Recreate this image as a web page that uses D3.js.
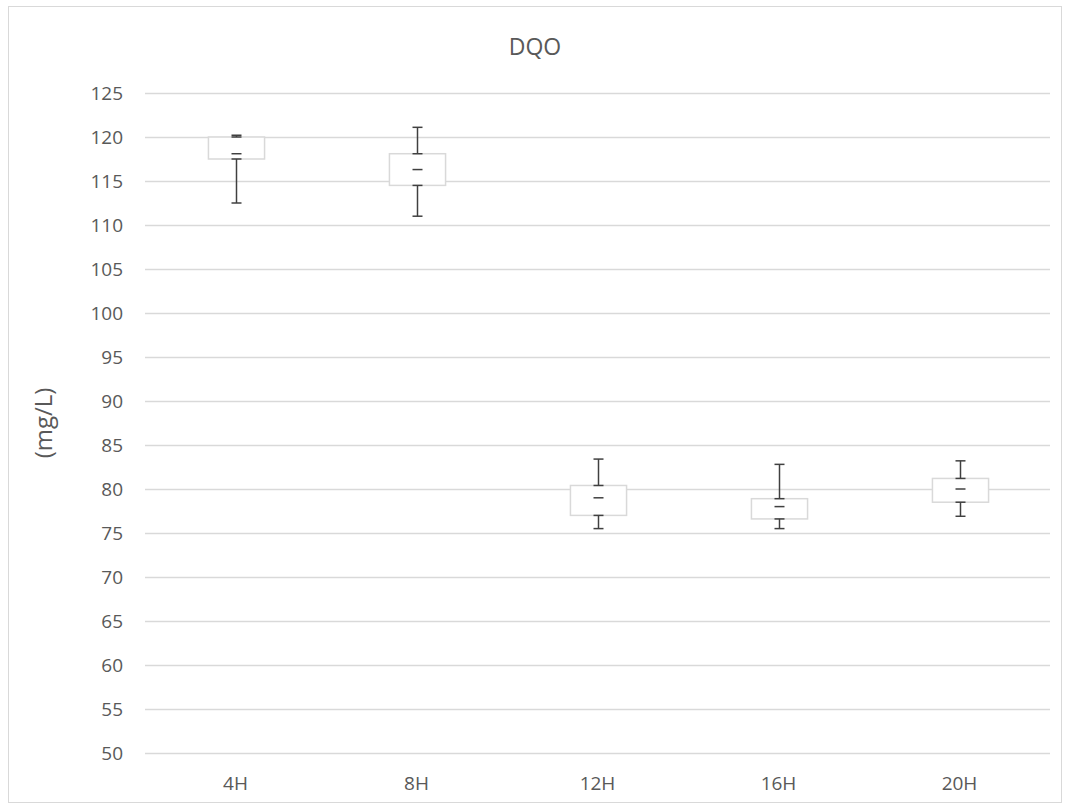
<!DOCTYPE html>
<html>
<head>
<meta charset="utf-8">
<script src="https://cdn.jsdelivr.net/npm/d3@7"></script>
<style>
  html, body { margin: 0; padding: 0; background: #fff; }
  svg { display: block; }
  svg text { font-family: "Open Sans", "Noto Sans", sans-serif; }
</style>
</head>
<body>
<svg id="chart" width="1070" height="809"></svg>
<script>
// Sampling times
const categories = ["4H", "8H", "12H", "16H", "20H"];
// Five-number summaries of DQO (mg/L) per sampling time
const minValues    = [112.5, 111.0, 75.5, 75.5, 76.9];
const q1Values     = [117.5, 114.5, 77.0, 76.6, 78.5];
const medianValues = [118.1, 116.3, 79.0, 78.0, 80.0];
const q3Values     = [120.0, 118.1, 80.4, 78.9, 81.2];
const maxValues    = [120.2, 121.1, 83.4, 82.8, 83.2];
// Y axis ticks
const yTicks = [50, 55, 60, 65, 70, 75, 80, 85, 90, 95, 100, 105, 110, 115, 120, 125];

const svg = d3.select("#chart");
const W = 1070, H = 809;
const margin = { left: 145, right: 20, top: 93, bottom: 56 };

// Outer chart frame
svg.append("rect")
  .attr("x", 8.5).attr("y", 6.5)
  .attr("width", W - 17).attr("height", H - 13)
  .attr("fill", "#fff").attr("stroke", "#d9d9d9").attr("stroke-width", 1);

const x = d3.scaleBand()
  .domain(categories)
  .range([margin.left, W - margin.right])
  .paddingInner(0).paddingOuter(0);

const y = d3.scaleLinear()
  .domain([50, 125])
  .range([H - margin.bottom, margin.top]);

// Horizontal gridlines
svg.append("g")
  .selectAll("line")
  .data(yTicks)
  .join("line")
  .attr("x1", margin.left).attr("x2", W - margin.right)
  .attr("y1", d => Math.round(y(d)) + 0.5).attr("y2", d => Math.round(y(d)) + 0.5)
  .attr("stroke", "#d9d9d9").attr("stroke-width", 1.3);

// Y axis labels
const yAxis = svg.append("g")
  .attr("transform", `translate(${margin.left},0)`)
  .call(d3.axisLeft(y).tickValues(yTicks).tickSize(0).tickPadding(22));
yAxis.attr("font-family", null).attr("font-size", null);
yAxis.select(".domain").remove();
yAxis.selectAll("text")
  .attr("fill", "#595959").style("font-size", "19px");

// X axis labels
const xAxis = svg.append("g")
  .attr("transform", `translate(0,${H - margin.bottom})`)
  .call(d3.axisBottom(x).tickSize(0).tickPadding(24));
xAxis.attr("font-family", null).attr("font-size", null);
xAxis.select(".domain").remove();
xAxis.selectAll("text")
  .attr("fill", "#595959").style("font-size", "19px");

// Title
svg.append("text")
  .attr("x", 535).attr("y", 55)
  .attr("text-anchor", "middle")
  .attr("fill", "#595959")
  .style("font-size", "23px")
  .text("DQO");

// Y axis title
svg.append("text")
  .attr("transform", `translate(52,${(margin.top + H - margin.bottom) / 2}) rotate(-90)`)
  .attr("text-anchor", "middle")
  .attr("fill", "#595959")
  .style("font-size", "24px")
  .text("(mg/L)");

const rows = categories.map((c, i) => ({
  c, min: minValues[i], q1: q1Values[i], med: medianValues[i], q3: q3Values[i], max: maxValues[i]
}));

const boxW = x.bandwidth() * 0.31;
const capW = 10;
const whiskerColor = "#404040";

const g = svg.append("g");
rows.forEach(d => {
  const cx = Math.round(x(d.c) + x.bandwidth() / 2) + 0.5;
  // Box from Q1 to Q3
  g.append("rect")
    .attr("x", cx - boxW / 2)
    .attr("y", y(d.q3))
    .attr("width", boxW)
    .attr("height", y(d.q1) - y(d.q3))
    .attr("fill", "#fff")
    .attr("stroke", "#d9d9d9")
    .attr("stroke-width", 1.5);

  // Whiskers with caps at both ends
  [[d.q3, d.max], [d.q1, d.min]].forEach(([a, b]) => {
    g.append("line")
      .attr("x1", cx).attr("x2", cx)
      .attr("y1", y(a)).attr("y2", y(b))
      .attr("stroke", whiskerColor).attr("stroke-width", 1.5);
    [a, b].forEach(v => {
      g.append("line")
        .attr("x1", cx - capW / 2).attr("x2", cx + capW / 2)
        .attr("y1", y(v)).attr("y2", y(v))
        .attr("stroke", whiskerColor).attr("stroke-width", 1.5);
    });
  });

  // Median marker
  g.append("line")
    .attr("x1", cx - capW / 2).attr("x2", cx + capW / 2)
    .attr("y1", y(d.med)).attr("y2", y(d.med))
    .attr("stroke", whiskerColor).attr("stroke-width", 1.5);
});
</script>
</body>
</html>
